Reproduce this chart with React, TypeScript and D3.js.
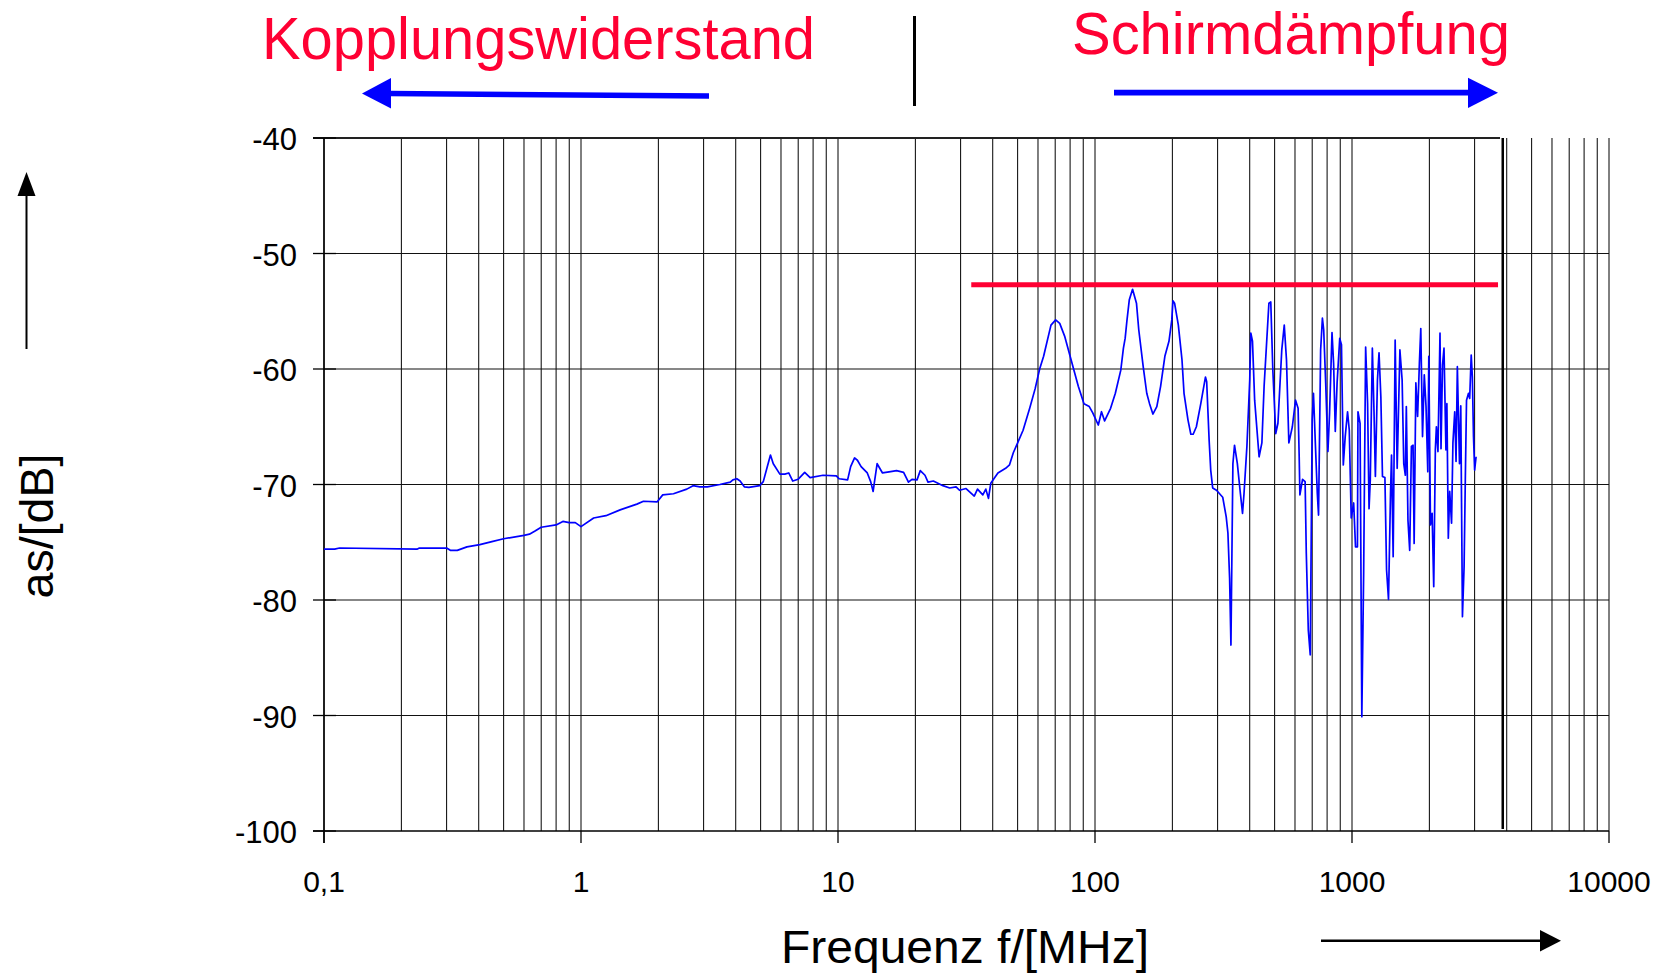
import React from 'react';
import * as d3 from 'd3';

// measured curve: frequency in MHz, coupling / screening value in dB
const freqMHz = [
  0.1, 0.11, 0.115, 0.23, 0.235, 0.3, 0.31, 0.33, 0.36, 0.404, 0.45, 0.5, 0.6, 0.63, 0.66, 0.7, 0.8, 0.85, 0.9, 0.95,
  1.0, 1.12, 1.25, 1.42, 1.65, 1.75, 1.98, 2.08, 2.29, 2.58, 2.73, 2.9, 3.1, 3.47, 3.81, 3.9, 4.04, 4.16, 4.32, 4.5,
  4.96, 5.12, 5.3, 5.46, 5.6, 5.94, 6.21, 6.43, 6.67, 6.99, 7.42, 7.79, 8.75, 9.85, 10.1, 10.9, 11.2, 11.6, 11.9, 12.3,
  13.0, 13.4, 13.7, 13.9, 14.2, 14.9, 15.8, 16.9, 18.0, 18.8, 19.4, 20.3, 20.9, 21.8, 22.4, 23.5, 25.6, 27.2, 28.8, 29.7,
  31.5, 33.9, 34.9, 36.6, 37.6, 38.5, 39.3, 41.9, 44.9, 46.5, 48.1, 50.0, 52.5, 55.7, 58.5, 60.9, 63.1, 67.4, 70.3, 72.9,
  76.3, 81.4, 86.1, 90.6, 95.0, 98.0, 103, 106, 109, 115, 120, 126, 129, 131, 133, 136, 140, 145, 148, 154,
  159, 163, 168, 174, 180, 187, 194, 199, 201, 204, 211, 218, 222, 230, 236, 241, 248, 258, 269, 272,
  278, 282, 287, 297, 314, 324, 329, 334, 338, 341, 344, 349, 358, 368, 375, 380, 390, 400, 404, 410,
  418, 435, 446, 455, 475, 483, 492, 505, 515, 533, 545, 556, 568, 586, 603, 617, 623, 627, 642, 657,
  664, 676, 688, 700, 708, 720, 733, 741, 755, 767, 776, 790, 806, 818, 836, 848, 861, 875, 896, 910,
  925, 941, 961, 976, 993, 1015, 1032, 1050, 1055, 1075, 1092, 1110, 1130, 1150, 1165, 1178, 1200, 1218, 1233, 1256,
  1274, 1295, 1314, 1343, 1363, 1387, 1412, 1425, 1446, 1472, 1499, 1536, 1567, 1590, 1613, 1627, 1651, 1677, 1703, 1728,
  1745, 1772, 1800, 1829, 1852, 1881, 1911, 1941, 1972, 1990, 2020, 2050, 2080, 2110, 2130, 2160, 2200, 2220, 2250, 2280,
  2320, 2340, 2370, 2400, 2440, 2470, 2510, 2540, 2570, 2620, 2650, 2690, 2730, 2760, 2790, 2840, 2870, 2910, 2940, 2970,
  3000, 3040,
];

const levelDb = [
  -75.6, -75.6, -75.5, -75.6, -75.5, -75.5, -75.7, -75.7, -75.4, -75.2, -74.95, -74.7, -74.4, -74.3, -74.05, -73.7, -73.5, -73.2, -73.3, -73.3,
  -73.65, -72.9, -72.7, -72.2, -71.7, -71.45, -71.5, -70.9, -70.8, -70.4, -70.1, -70.2, -70.2, -70.0, -69.8, -69.6, -69.5, -69.7, -70.2, -70.25,
  -70.1, -69.75, -68.5, -67.45, -68.2, -69.1, -69.1, -69.0, -69.7, -69.55, -68.95, -69.4, -69.2, -69.25, -69.5, -69.6, -68.45, -67.7, -67.9, -68.45,
  -69.0, -69.75, -70.6, -69.6, -68.2, -69.0, -68.9, -68.8, -68.95, -69.8, -69.55, -69.6, -68.8, -69.2, -69.8, -69.7, -70.1, -70.3, -70.2, -70.5,
  -70.35, -71.0, -70.4, -70.9, -70.4, -71.2, -69.9, -69.0, -68.6, -68.3, -67.25, -66.4, -65.3, -63.4, -61.7, -60.0, -58.9, -56.2, -55.75, -56.05,
  -57.2, -59.5, -61.5, -63.0, -63.25, -63.8, -64.85, -63.7, -64.5, -63.4, -62.1, -60.1, -58.2, -57.35, -55.9, -54.0, -53.1, -54.3, -56.6, -59.8,
  -62.1, -63.0, -63.9, -63.25, -61.5, -58.9, -57.6, -55.75, -54.1, -54.3, -56.2, -59.2, -62.1, -64.4, -65.65, -65.65, -65.0, -63.0, -60.7, -61.1,
  -66.15, -68.75, -70.3, -70.5, -71.1, -72.8, -74.2, -78.1, -83.9, -76.0, -68.2, -66.6, -68.2, -70.8, -72.5, -70.8, -66.7, -60.95, -56.9, -57.6,
  -62.7, -67.6, -66.4, -61.5, -54.3, -54.2, -60.1, -65.6, -64.7, -58.35, -56.2, -59.2, -66.4, -65.0, -62.7, -63.4, -67.6, -70.9, -69.55, -69.75,
  -75.95, -82.6, -84.75, -64.4, -62.1, -66.4, -70.8, -72.65, -58.35, -55.6, -56.6, -61.2, -67.15, -63.8, -56.85, -59.5, -65.4, -61.2, -57.35, -57.9,
  -68.3, -65.85, -63.7, -65.3, -72.9, -71.6, -75.4, -75.4, -63.7, -64.7, -90.1, -77.7, -58.1, -63.0, -72.1, -69.6, -58.2, -63.7, -69.3, -60.95,
  -58.6, -62.4, -69.3, -69.4, -77.4, -79.95, -70.8, -67.45, -76.25, -57.5, -68.6, -58.35, -60.95, -68.2, -69.2, -63.25, -73.1, -75.7, -66.7, -66.6,
  -75.1, -61.2, -64.1, -59.5, -56.5, -65.85, -60.5, -63.25, -68.9, -58.9, -73.5, -72.5, -78.85, -67.0, -65.0, -67.15, -56.9, -66.9, -59.65, -58.2,
  -67.0, -63.0, -74.65, -70.6, -73.35, -66.4, -63.7, -68.0, -59.8, -68.2, -63.2, -81.45, -77.1, -69.6, -62.7, -62.1, -62.55, -58.8, -60.7, -65.85,
  -68.75, -67.6,
];

const yTicks = [-40, -50, -60, -70, -80, -90, -100];
const xDecades = [0.1, 1, 10, 100, 1000, 10000];
const xTickLabels = ['0,1', '1', '10', '100', '1000', '10000'];

// red limit line and the end of the measured range
const limitDb = -52.7;
const limitFromMHz = 33;
const limitToMHz = 3700;
const rangeEndMHz = 3860;

const FONT = '"Liberation Sans", Arial, Helvetica, sans-serif';
const RED = '#ff0033';
const BLUE = '#0000ff';

export default function App() {
  const x = d3.scaleLog().domain([0.1, 10000]).range([324, 1609]);
  const y = d3.scaleLinear().domain([-100, -40]).range([831, 138]);

  const points = freqMHz.map((f, i) => [f, levelDb[i]] as [number, number]);
  const line = d3.line<[number, number]>()
    .x(d => x(d[0]))
    .y(d => y(d[1]));

  // 1..9 per decade
  const gridFreqs: number[] = [];
  xDecades.slice(0, -1).forEach(dec => {
    for (let k = 1; k <= 9; k++) gridFreqs.push(dec * k);
  });
  gridFreqs.push(10000);

  const top = y(-40), bottom = y(-100);

  return (
    <svg width={1659} height={973} style={{ position: 'fixed', left: 0, top: 0, background: '#fff' }}
      fontFamily={FONT}>
      {/* vertical grid */}
      {gridFreqs.map((f, i) => (
        <line key={'vg' + i} x1={x(f)} x2={x(f)} y1={top} y2={bottom} stroke="#000" strokeWidth={1} />
      ))}
      {/* horizontal grid */}
      {yTicks.filter(v => v !== -40 && v !== -100).map(v => (
        <line key={'hg' + v} x1={x(0.1)} x2={x(10000)} y1={y(v)} y2={y(v)} stroke="#111" strokeWidth={1.1} />
      ))}
      {/* frame */}
      <line x1={313} x2={x(limitToMHz) + 2} y1={top} y2={top} stroke="#222" strokeWidth={2} />
      <line x1={313} x2={x(10000)} y1={bottom} y2={bottom} stroke="#000" strokeWidth={1.5} />
      <line x1={x(0.1)} x2={x(0.1)} y1={top} y2={bottom + 12} stroke="#000" strokeWidth={1.5} />
      <line x1={x(rangeEndMHz)} x2={x(rangeEndMHz)} y1={top} y2={bottom - 2} stroke="#000" strokeWidth={2.5} />
      {yTicks.map(v => (
        <line key={'yt' + v} x1={313} x2={336} y1={y(v)} y2={y(v)} stroke="#000" strokeWidth={1.3} />
      ))}
      {xDecades.map(f => (
        <line key={'xt' + f} x1={x(f)} x2={x(f)} y1={bottom} y2={bottom + 12} stroke="#000" strokeWidth={1.3} />
      ))}

      {/* tick labels */}
      {yTicks.map(v => (
        <text key={'yl' + v} x={297} y={y(v) + 12} fontSize={31} textAnchor="end">{v}</text>
      ))}
      {xDecades.map((f, i) => (
        <text key={'xl' + f} x={x(f)} y={892} fontSize={30} textAnchor="middle">{xTickLabels[i]}</text>
      ))}

      {/* limit line */}
      <line x1={x(limitFromMHz)} x2={x(limitToMHz)} y1={y(limitDb)} y2={y(limitDb)} stroke={RED} strokeWidth={5} />

      {/* measured curve */}
      <path d={line(points) ?? ''} fill="none" stroke={BLUE} strokeWidth={1.7} strokeLinejoin="round" />

      {/* headings and direction arrows */}
      <text x={262} y={59} fontSize={60} fill={RED} textLength={553} lengthAdjust="spacingAndGlyphs">Kopplungswiderstand</text>
      <text x={1072} y={54} fontSize={59} fill={RED} textLength={438} lengthAdjust="spacingAndGlyphs">Schirmdämpfung</text>
      <line x1={914.5} x2={914.5} y1={16} y2={106} stroke="#000" strokeWidth={3} />
      <line x1={709} y1={96} x2={389} y2={93.5} stroke={BLUE} strokeWidth={5.5} />
      <polygon points="391,78 362,93.5 391,108.5" fill={BLUE} />
      <line x1={1114} y1={92.7} x2={1470} y2={92.7} stroke={BLUE} strokeWidth={5.7} />
      <polygon points="1468,77.7 1498,92.7 1468,108" fill={BLUE} />

      {/* axis titles */}
      <text x={781} y={963} fontSize={46} textLength={368} lengthAdjust="spacingAndGlyphs">Frequenz f/[MHz]</text>
      <line x1={1321} y1={940.7} x2={1542} y2={940.7} stroke="#000" strokeWidth={2.5} />
      <polygon points="1540,930 1561,940.7 1540,951.5" fill="#000" />
      <text transform="translate(53,526) rotate(-90)" fontSize={46} textAnchor="middle" textLength={145}
        lengthAdjust="spacingAndGlyphs">as/[dB]</text>
      <line x1={26.5} y1={349} x2={26.5} y2={194} stroke="#000" strokeWidth={2} />
      <polygon points="17.5,196 26.5,172 35.5,196" fill="#000" />
    </svg>
  );
}
